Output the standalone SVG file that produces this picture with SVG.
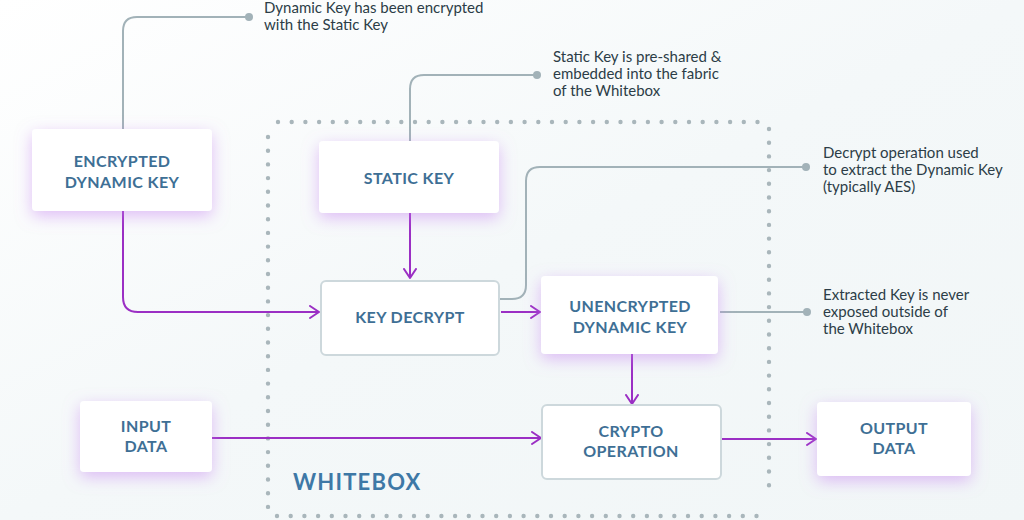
<svg xmlns="http://www.w3.org/2000/svg" width="1024" height="520" viewBox="0 0 1024 520">
<defs>
<linearGradient id="bg" x1="0" y1="0" x2="1" y2="1">
<stop offset="0" stop-color="#ffffff"/>
<stop offset="0.5" stop-color="#f4f8f9"/>
<stop offset="1" stop-color="#f1f6f7"/>
</linearGradient>
<filter id="glow" x="-30%" y="-30%" width="160%" height="170%">
<feDropShadow dx="0" dy="5" stdDeviation="8" flood-color="#c47ef0" flood-opacity="0.5"/>
</filter>
<marker id="arr" markerUnits="userSpaceOnUse" markerWidth="14" markerHeight="16" refX="10" refY="7" orient="auto" viewBox="0 0 14 16">
<path d="M1,1 L10,7 L1,13" fill="none" stroke="#9b2fc4" stroke-width="2" stroke-linejoin="round" stroke-linecap="round"/>
</marker>
</defs>
<style>
.box{fill:#ffffff;}
.glow{filter:url(#glow);}
.bord{stroke:#cdd8dc;stroke-width:2;}
.lbl{font-family:Lato,"Liberation Sans",sans-serif;font-weight:700;font-size:16px;fill:#3e6f95;text-anchor:middle;letter-spacing:0.4px;}
.note{font-family:Lato,"Liberation Sans",sans-serif;font-size:15px;fill:#2c3d47;}
.flow{fill:none;stroke:#9b2fc4;stroke-width:2;marker-end:url(#arr);}
.call{fill:none;stroke:#a2b2b8;stroke-width:2;}
.dotc{fill:#a2b2b8;}
.wb{fill:none;stroke:#a9b6bb;stroke-width:4.4;stroke-linecap:round;stroke-dasharray:0 13.7;}
</style>
<rect x="0" y="0" width="1024" height="520" fill="url(#bg)"/>

<g id="whitebox">
<path class="wb" d="M278 122 H758"/>
<path class="wb" d="M769 129 V498"/>
<path class="wb" d="M277 516 H757"/>
<path class="wb" d="M268 137 V508"/>
<text x="293" y="490" font-family="Lato,'Liberation Sans',sans-serif" font-weight="700" font-size="22" letter-spacing="1.2" fill="#3e78a6">WHITEBOX</text>
</g>

<g id="connectors">
<path class="flow" d="M123 211 V297 Q123 312 138 312 H319"/>
<path class="flow" d="M410 213 V278"/>
<path class="flow" d="M501 312 H540"/>
<path class="flow" d="M632 354 V404"/>
<path class="flow" d="M212 438 H541"/>
<path class="flow" d="M722 439 H816"/>
<path class="call" d="M123 129 V31 Q123 17 137 17 H249"/>
<circle class="dotc" cx="249" cy="17" r="4"/>
<path class="call" d="M410 141 V89 Q410 75 424 75 H537"/>
<circle class="dotc" cx="537" cy="75" r="4"/>
<path class="call" d="M500 299 H512 Q526 299 526 285 V181 Q526 167 540 167 H806"/>
<circle class="dotc" cx="806" cy="167" r="4"/>
<path class="call" d="M720 312 H807"/>
<circle class="dotc" cx="807" cy="312" r="4"/>
</g>

<g id="encrypted-dynamic-key">
<rect class="box glow" x="32" y="129" width="180" height="82" rx="4"/>
<text class="lbl" x="122" y="167">ENCRYPTED</text>
<text class="lbl" x="122" y="188">DYNAMIC KEY</text>
</g>
<g id="static-key">
<rect class="box glow" x="319" y="141" width="180" height="72" rx="4"/>
<text class="lbl" x="409" y="184">STATIC KEY</text>
</g>
<g id="key-decrypt">
<rect class="box bord" x="321" y="281" width="178" height="74" rx="5"/>
<text class="lbl" x="410" y="323">KEY DECRYPT</text>
</g>
<g id="unencrypted-dynamic-key">
<rect class="box glow" x="541" y="276" width="177" height="78" rx="4"/>
<text class="lbl" x="630" y="312">UNENCRYPTED</text>
<text class="lbl" x="630" y="333">DYNAMIC KEY</text>
</g>
<g id="crypto-operation">
<rect class="box bord" x="542" y="405" width="179" height="74" rx="5"/>
<text class="lbl" x="631" y="437">CRYPTO</text>
<text class="lbl" x="631" y="457">OPERATION</text>
</g>
<g id="input-data">
<rect class="box glow" x="80" y="401" width="132" height="71" rx="4"/>
<text class="lbl" x="146" y="432">INPUT</text>
<text class="lbl" x="146" y="452">DATA</text>
</g>
<g id="output-data">
<rect class="box glow" x="817" y="402" width="154" height="74" rx="4"/>
<text class="lbl" x="894" y="434">OUTPUT</text>
<text class="lbl" x="894" y="454">DATA</text>
</g>

<g id="notes">
<text class="note" x="264" y="13">Dynamic Key has been encrypted</text>
<text class="note" x="264" y="30">with the Static Key</text>
<text class="note" x="553" y="62">Static Key is pre-shared &amp;</text>
<text class="note" x="553" y="79">embedded into the fabric</text>
<text class="note" x="553" y="96">of the Whitebox</text>
<text class="note" x="823" y="158">Decrypt operation used</text>
<text class="note" x="823" y="175">to extract the Dynamic Key</text>
<text class="note" x="823" y="192">(typically AES)</text>
<text class="note" x="823" y="300">Extracted Key is never</text>
<text class="note" x="823" y="317">exposed outside of</text>
<text class="note" x="823" y="334">the Whitebox</text>
</g>
</svg>
